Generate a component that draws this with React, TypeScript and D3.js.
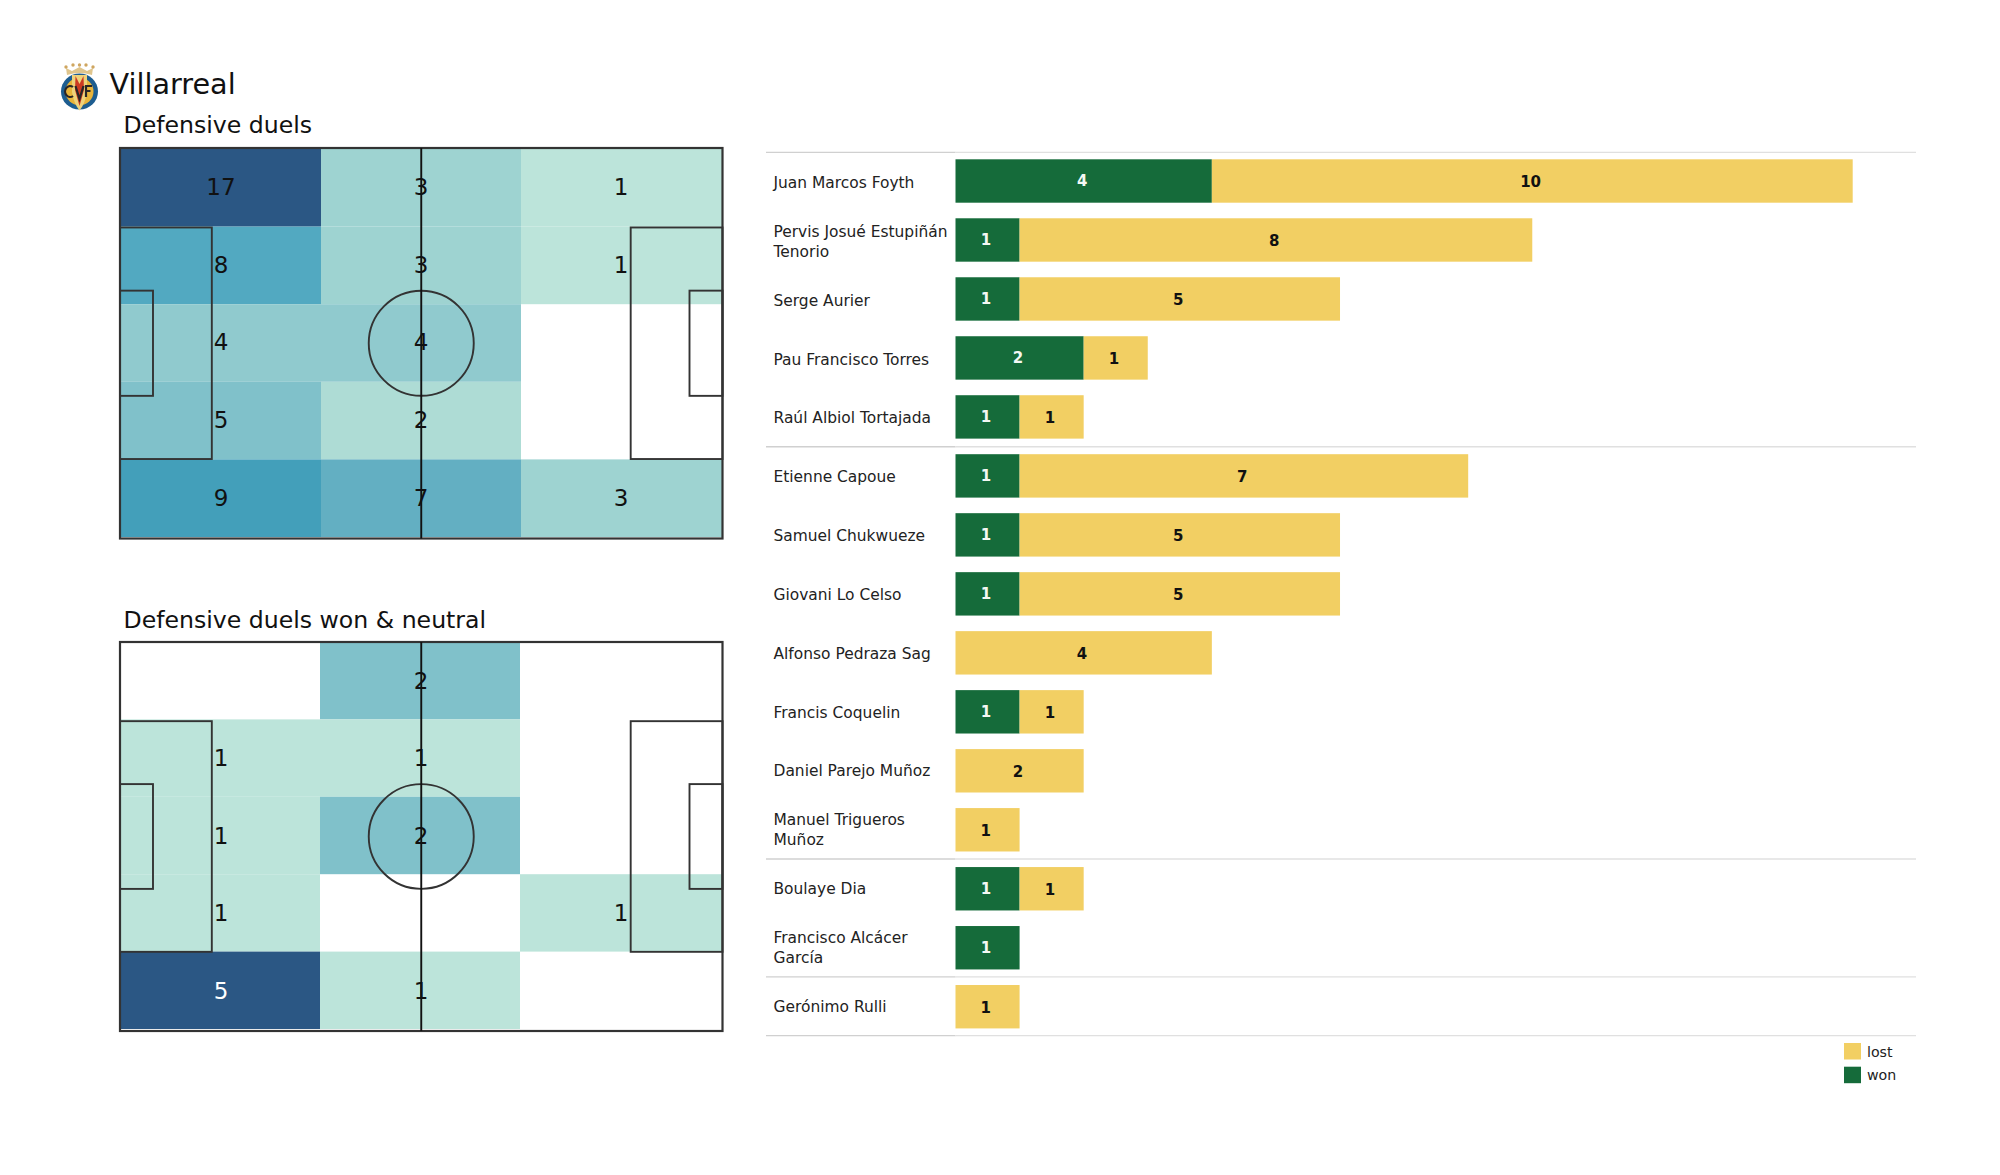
import React from "react";
import * as d3 from "d3";

const FONT = "'DejaVu Sans', sans-serif";
const players = [
  ["Juan Marcos Foyth"], ["Pervis Josué Estupiñán", "Tenorio"], ["Serge Aurier"], ["Pau Francisco Torres"],
  ["Raúl Albiol Tortajada"], ["Etienne Capoue"], ["Samuel Chukwueze"], ["Giovani Lo Celso"],
  ["Alfonso Pedraza Sag"], ["Francis Coquelin"], ["Daniel Parejo Muñoz"], ["Manuel Trigueros", "Muñoz"],
  ["Boulaye Dia"], ["Francisco Alcácer", "García"], ["Gerónimo Rulli"],
];
const won = [4, 1, 1, 2, 1, 1, 1, 1, 0, 1, 0, 0, 1, 1, 0];
const lost = [10, 8, 5, 1, 1, 7, 5, 5, 4, 1, 2, 1, 1, 0, 1];
const groupEnds = [-1, 4, 11, 13, 14];
const duels = [[17, 3, 1], [8, 3, 1], [4, 4, 0], [5, 2, 0], [9, 7, 3]];
const duelsWon = [[0, 2, 0], [1, 1, 0], [1, 2, 0], [1, 0, 1], [5, 1, 0]];

const colorStops = [0, 0.0625, 0.125, 0.1875, 0.25, 0.375, 0.4375, 0.5, 1];
const colorValues = ["#bce4da", "#aedcd5", "#9ed3d1", "#90cace", "#80c1ca", "#63afc2", "#52a9c1", "#439fba", "#2b5784"];
const heat = d3.scaleLinear<string>().domain(colorStops).range(colorValues);

const GREEN = "#156b3a";
const YELLOW = "#f2cf63";
const LINE = "#333";

function Pitch({ data, top, cellTop, cellBottom, bottom, cellLeft, title, titleY, lightValue }: any) {
  const x = d3.scaleLinear().domain([0, 105]).range([120, 722.5]);
  const y = d3.scaleLinear().domain([0, 68]).range([top, bottom]);
  const cx = d3.scaleBand<number>().domain([0, 1, 2]).range([cellLeft, cellLeft + 600]);
  const cy = d3.scaleBand<number>().domain([0, 1, 2, 3, 4]).range([cellTop, cellBottom]);
  const max = d3.max(data.flat() as number[]) as number;
  const boxes = [
    [0, 16, 13.84, 54.16], [0, 5.75, 24.84, 43.16],
    [89, 105, 13.84, 54.16], [99.25, 105, 24.84, 43.16],
  ];
  return (
    <g>
      <text x={123.5} y={titleY} fontSize={23.6} fill="#111">{title}</text>
      {data.map((row: number[], r: number) =>
        row.map((v, c) =>
          v > 0 ? (
            <rect key={`${r}-${c}`} x={c === 0 ? 120 : cx(c)} y={cy(r)}
              width={c === 0 ? (cx(1) as number) - 120 : c === 2 ? 722 - (cx(2) as number) : cx.bandwidth()}
              height={cy.bandwidth()} fill={heat((v - 1) / (max - 1))} />
          ) : null
        )
      )}
      <g fill="none" stroke={LINE} strokeWidth={1.9}>
        {boxes.map((b, i) => (
          <rect key={i} x={x(b[0])} y={y(b[2])} width={x(b[1]) - x(b[0])} height={y(b[3]) - y(b[2])} />
        ))}
        <ellipse cx={x(52.5)} cy={y(34)} rx={x(9.15) - x(0)} ry={y(9.15) - y(0)} />
        <rect x={x(0)} y={y(0)} width={x(105) - x(0)} height={y(68) - y(0)} strokeWidth={2.2} />
        <line x1={x(52.5)} x2={x(52.5)} y1={y(0)} y2={y(68)} stroke="#111" />
      </g>
      {data.map((row: number[], r: number) =>
        row.map((v, c) =>
          v > 0 ? (
            <text key={`t${r}-${c}`} x={221 + c * 200} y={(cy(r) as number) + cy.bandwidth() / 2 - (titleY < 300 ? 0.8 : 0)}
              dy="0.36em" textAnchor="middle" fontSize={23}
              fill={v === lightValue ? "#fff" : "#111"}>{v}</text>
          ) : null
        )
      )}
    </g>
  );
}

function Logo() {
  return (
    <g>
      <ellipse cx={79.5} cy={91.5} rx={18.5} ry={18} fill="#1d5d90" />
      <ellipse cx={79.5} cy={91.5} rx={14} ry={13.8} fill="#e8b43a" />
      <path d="M72 75 L87 75 L87 92 Q85 104 79.5 110.5 Q74 104 72 92 Z" fill="#efd27a" />
      <path d="M75.5 76 L79.5 84 L83.5 76 L84 90 L79.5 106 L75 90 Z" fill="#cc3a22" />
      <path d="M73 87 a5 5.5 0 1 0 0 9" fill="none" stroke="#2b2626" strokeWidth={2.2} />
      <path d="M75.5 86 L79.5 99 L83.5 86" fill="none" stroke="#2b2626" strokeWidth={2.2} />
      <path d="M92 86 L86 86 L86 97 M86 91 L90.5 91" fill="none" stroke="#2b2626" strokeWidth={2.2} />
      <path d="M67 75 L66 68 L72 71 L79.5 67 L87 71 L93 68 L92 75 Q79.5 71 67 75 Z" fill="#dfc58d" />
      {[66, 73, 79.5, 86, 93].map((c) => (
        <circle key={c} cx={c} cy={c === 66 || c === 93 ? 67 : 65} r={1.7} fill="#cfa660" />
      ))}
    </g>
  );
}

function Bars() {
  const x = d3.scaleLinear().domain([0, 14]).range([955.5, 1852.7]);
  const sep = (i: number) => 152.3 + (i + 1) * (1035.7 - 152.3) / 15;
  return (
    <g>
      {groupEnds.map((g) => (
        <g key={g}>
          <line x1={766} x2={955.5} y1={sep(g)} y2={sep(g)} stroke="#d0d0d0" strokeWidth={1.3} />
          <line x1={955.5} x2={1916} y1={sep(g)} y2={sep(g)} stroke="#e0e0e0" strokeWidth={1.3} />
        </g>
      ))}
      {players.map((name, i) => {
        const cy = 181 + i * 58.98;
        const top = cy - 21.7;
        const w = won[i];
        const l = lost[i];
        const labelY = 182.5 + i * 58.84;
        return (
          <g key={i}>
            {w > 0 && <rect x={x(0)} y={top} width={x(w) - x(0)} height={43.4} fill={GREEN} />}
            {l > 0 && <rect x={x(w)} y={top} width={x(w + l) - x(w)} height={43.4} fill={YELLOW} />}
            {w > 0 && (
              <text x={(x(0) + x(w)) / 2 - 1.5} y={cy} dy="0.36em" textAnchor="middle" fontSize={15} fontWeight="bold" fill="#f4f8f4">{w}</text>
            )}
            {l > 0 && (
              <text x={(x(w) + x(w + l)) / 2 - 1.7} y={cy + 0.4} dy="0.36em" textAnchor="middle" fontSize={15} fontWeight="bold" fill="#111">{l}</text>
            )}
            {name.map((ln, k) => (
              <text key={k} x={773.5} y={labelY + (k - (name.length - 1) / 2) * 19.7} dy="0.36em" fontSize={15.45} fill="#222">{ln}</text>
            ))}
          </g>
        );
      })}
      {[["lost", YELLOW, 1043], ["won", GREEN, 1066.7]].map(([t, c, yy]: any) => (
        <g key={t}>
          <rect x={1844} y={yy} width={17} height={16.5} fill={c} />
          <text x={1867} y={yy + 8.5} dy="0.36em" fontSize={14.2} fill="#222">{t}</text>
        </g>
      ))}
    </g>
  );
}

export default function App() {
  return (
    <svg width={2000} height={1175} viewBox="0 0 2000 1175"
      style={{ position: "absolute", left: 0, top: 0, background: "#fff", fontFamily: FONT }}>
      <Logo />
      <text x={109.5} y={94} fontSize={28.7} fill="#111">Villarreal</text>
      <Pitch data={duels} top={148} cellTop={149} cellBottom={537} bottom={538.5} cellLeft={121} title="Defensive duels" titleY={133.4} lightValue={-1} />
      <Pitch data={duelsWon} top={642} cellTop={642} cellBottom={1029} bottom={1031} cellLeft={120} title="Defensive duels won & neutral" titleY={627.7} lightValue={5} />
      <Bars />
    </svg>
  );
}
